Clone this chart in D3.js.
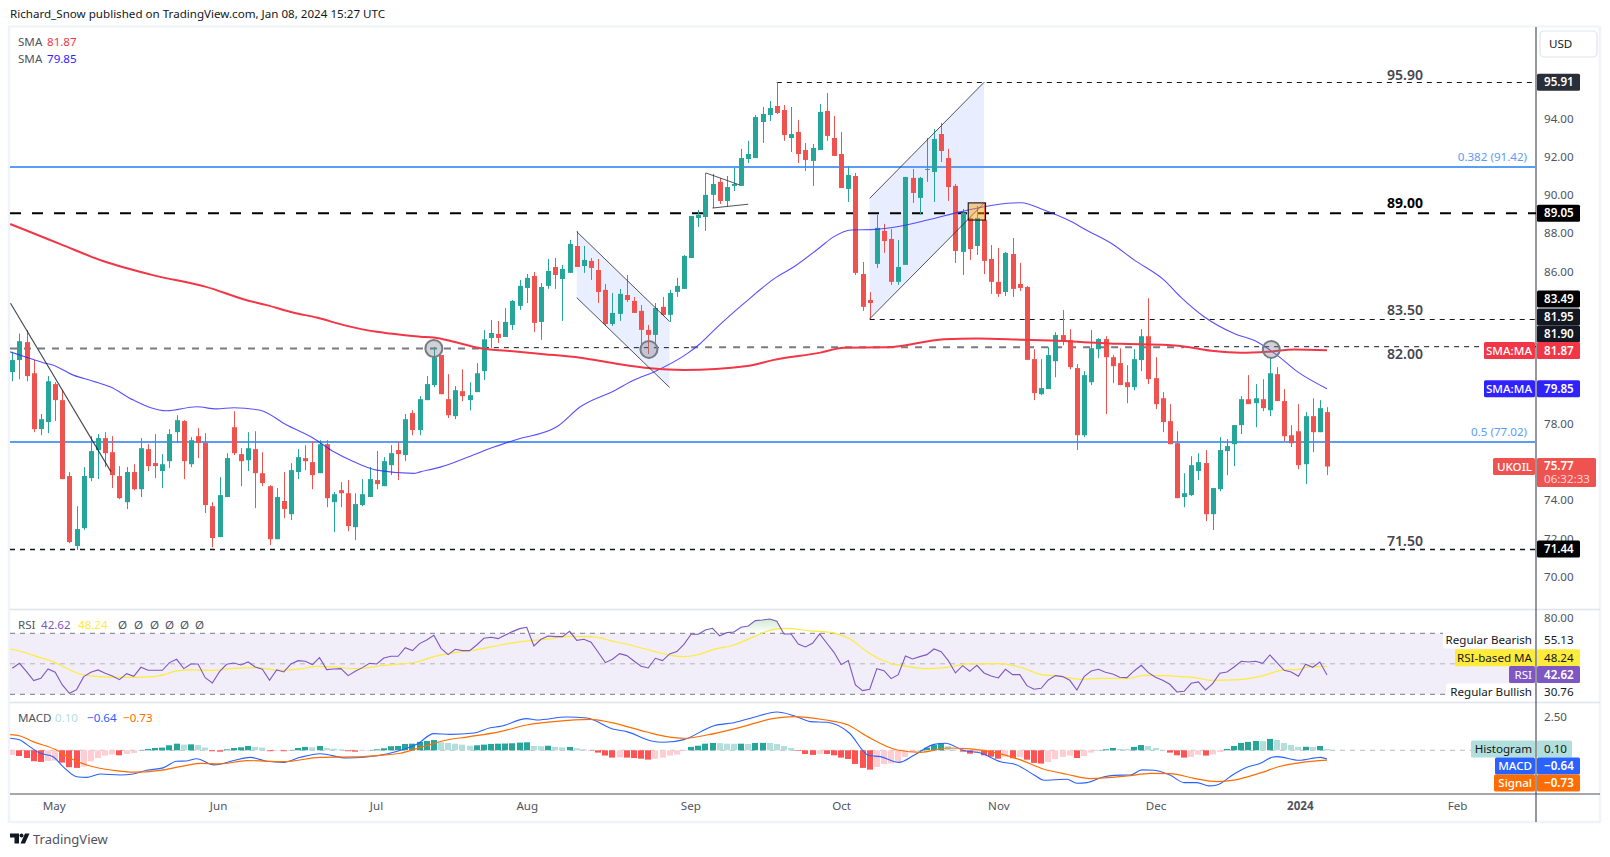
<!DOCTYPE html>
<html><head><meta charset="utf-8">
<style>html,body{margin:0;padding:0;background:#fff;overflow:hidden}svg{display:block}text{font-family:"Noto Sans",sans-serif}</style>
<script src="https://cdn.jsdelivr.net/npm/d3@7/dist/d3.min.js"></script>
</head><body><svg id="c" width="1610" height="857"></svg>
<script>
const opens=[80.72,81.35,82.29,80.66,77.73,78.10,80.09,79.25,75.27,71.60,72.54,75.16,76.63,77.26,76.52,75.27,73.90,75.48,74.58,76.68,75.95,75.53,76.05,77.57,78.15,75.89,77.36,77.00,73.69,72.07,74.17,77.83,76.42,76.10,76.68,75.42,74.74,71.96,73.96,73.27,75.48,76.21,76.00,75.42,76.94,73.90,74.53,74.37,72.59,73.75,74.17,75.06,74.74,75.84,76.63,76.37,78.57,77.68,79.25,80.04,81.61,79.30,78.41,79.72,79.25,79.67,80.77,82.51,82.72,82.56,83.19,84.19,85.13,85.76,83.35,85.24,86.23,85.60,85.92,87.33,86.28,86.55,86.07,85.03,83.24,83.77,84.76,84.45,83.93,82.93,82.67,84.14,83.72,84.92,85.08,86.70,88.80,88.85,90.01,90.69,89.69,90.48,90.48,91.89,91.94,93.83,94.20,94.67,94.46,92.99,93.31,92.36,91.79,92.36,94.41,92.99,92.15,90.32,91.00,85.86,84.50,86.39,88.12,87.70,85.45,86.34,90.90,89.85,91.33,91.21,93.20,91.94,90.48,87.02,88.80,87.33,88.69,86.65,85.45,84.92,86.91,85.34,85.18,81.40,79.56,79.83,81.29,82.66,82.39,80.93,77.41,80.19,81.92,82.45,81.50,81.19,80.19,79.93,81.35,82.60,80.40,79.35,78.15,76.99,74.17,74.27,75.53,75.95,73.27,74.58,76.58,76.94,77.94,79.30,79.09,79.30,78.72,80.61,79.20,77.41,77.62,75.89,78.41,77.57,78.62];
const highs=[81.78,82.74,82.92,81.35,78.52,80.51,80.19,79.77,75.48,73.69,75.74,77.36,77.47,77.57,77.36,75.79,75.74,75.89,77.26,76.94,77.47,76.42,77.73,78.46,78.20,77.31,77.78,77.52,73.90,75.21,76.47,78.67,76.73,77.57,77.62,76.52,74.79,74.64,75.48,75.95,76.68,76.89,77.10,77.15,77.15,74.43,74.95,75.06,74.37,75.11,75.74,76.58,76.26,76.89,77.05,78.52,78.72,79.46,80.51,82.04,81.61,80.61,79.98,80.87,80.19,81.19,82.92,83.45,83.40,84.08,84.50,85.55,85.86,85.97,85.39,86.65,86.70,86.34,87.65,88.12,87.33,86.70,86.65,85.34,84.87,85.08,85.81,84.66,84.24,83.19,84.34,84.66,85.03,85.66,86.86,88.90,89.22,91.16,91.11,90.90,91.00,91.42,92.42,92.84,94.20,94.62,94.93,95.91,94.72,94.62,93.94,92.73,92.68,94.77,95.35,94.15,93.31,91.53,91.16,86.49,84.92,88.96,88.49,88.22,87.65,90.95,91.37,90.95,92.99,93.46,93.78,92.42,90.58,89.27,88.80,89.43,89.59,87.38,87.23,87.02,87.75,86.44,85.24,81.92,81.40,82.03,82.81,83.97,82.97,81.14,80.77,82.92,82.50,82.60,81.61,81.97,81.08,81.92,82.97,84.59,81.50,79.67,79.04,77.62,75.42,76.31,76.47,76.63,74.64,77.31,77.21,77.94,79.46,80.56,80.09,80.35,81.45,80.98,79.83,77.94,79.04,78.62,79.35,79.25,78.88];
const lows=[80.24,80.35,80.24,77.57,77.41,77.52,78.15,75.11,71.75,71.39,72.44,75.00,75.11,75.74,74.64,74.06,73.54,74.53,74.17,75.53,75.16,74.64,75.69,77.00,75.11,75.74,76.21,73.33,71.54,72.07,74.17,76.37,74.74,75.53,73.59,74.74,71.65,71.96,73.06,72.96,75.11,75.58,74.58,75.42,73.64,72.33,73.64,72.38,71.91,73.69,74.17,74.58,74.74,75.32,75.06,76.05,77.41,77.41,79.25,79.93,79.56,78.31,78.25,79.20,78.72,79.67,80.30,81.99,82.25,82.56,82.93,83.98,84.34,82.82,82.41,85.08,85.08,83.40,85.92,86.23,85.92,85.55,84.34,83.14,83.14,83.40,84.40,83.82,81.97,81.67,82.14,83.66,83.35,84.66,85.08,86.70,88.33,88.12,89.32,89.53,89.38,90.21,90.48,91.68,91.94,92.73,93.88,94.25,92.84,92.26,91.68,91.26,90.48,92.36,92.84,92.05,90.37,89.64,85.81,83.93,83.51,86.18,86.97,85.29,85.29,86.34,89.59,88.96,90.69,89.64,91.73,89.69,86.44,85.81,86.60,86.86,85.86,84.82,84.66,84.71,84.66,84.97,81.36,79.25,79.51,79.83,80.45,82.13,80.87,76.63,77.31,80.04,81.45,78.52,80.14,80.04,79.09,79.77,80.77,80.09,78.78,77.57,76.94,74.11,73.64,74.22,75.06,72.91,72.44,74.48,75.32,75.79,77.47,79.04,77.83,78.67,78.41,79.20,77.10,76.79,75.63,74.85,76.52,77.57,75.32];
const closes=[81.35,82.34,80.51,77.73,78.25,80.24,79.25,75.11,71.81,72.49,75.27,76.58,77.26,76.47,75.32,74.11,75.48,74.58,76.73,75.79,75.79,75.89,77.47,78.20,76.05,77.15,77.00,73.75,72.02,74.27,76.21,76.47,76.05,76.73,75.42,74.90,71.96,74.17,73.54,75.58,76.26,76.05,75.32,76.94,74.11,74.32,74.37,72.65,73.80,74.32,75.11,74.85,76.05,76.47,76.42,78.25,77.68,79.30,80.09,81.50,79.56,78.46,79.77,79.46,79.51,80.66,82.44,82.77,82.51,83.35,84.45,85.24,85.66,83.30,85.18,86.02,85.81,86.13,87.44,86.23,86.60,86.18,84.92,83.24,83.82,84.82,84.50,83.82,82.93,82.67,84.08,83.72,84.87,85.24,86.81,88.90,88.96,90.01,90.58,89.69,90.42,90.58,91.94,92.15,94.09,94.25,94.56,94.30,93.15,93.20,92.15,91.84,92.47,94.36,93.10,92.05,90.37,91.05,85.92,84.14,84.34,88.28,87.59,85.45,86.23,90.95,90.11,90.90,91.37,92.94,92.31,90.42,87.07,89.06,87.17,88.80,86.55,85.45,84.82,86.97,85.08,85.13,81.36,79.62,79.88,81.61,82.66,82.34,80.98,77.41,80.56,81.97,82.45,81.50,81.03,80.04,79.93,81.40,82.60,80.35,79.04,78.10,76.94,74.11,74.37,75.84,76.00,73.27,74.64,76.63,76.84,77.94,79.30,79.04,79.35,78.83,80.66,79.20,77.36,76.99,75.84,78.41,77.57,78.83,75.77];
const sma50Idx=[-0.3,2.94,4.34,5.74,8.54,11.34,13.68,16.95,21.6,25.8,28.6,31,34.7,38.4,42.2,45,47.8,51,56.2,57.1,60,64,67.5,70.6,76.2,79.5,84.4,87,89.8,94.5,96.3,98.7,102.4,107,109.4,113.1,115,117.4,120.2,124.4,128.1,132.8,136,139.3,141.2,144.4,148.2,150.1,153.8,157,161.2,163.5,166.8,171,174.2,177,179.9,184];
const sma50Val=[81.78,81.38,81.21,81.08,80.56,80.24,79.95,79.25,78.69,78.90,78.79,78.85,78.72,77.94,77.24,76.54,76.02,75.58,75.41,75.49,75.75,76.30,76.80,77.19,77.85,78.90,79.77,80.30,80.73,81.70,82.22,83.09,84.32,85.71,86.24,87.28,87.82,88.17,88.19,88.38,88.69,89.13,89.39,89.57,89.60,89.22,88.61,88.21,87.47,86.60,85.54,84.66,83.62,82.74,82.31,81.61,80.73,79.85];
const sma200Idx=[-0.3,2.6,6.9,12.7,19.8,27,32.8,35.6,39.4,42.6,46.4,51,52.9,57.1,59,61.8,65,66.9,69.7,74.4,79.5,84.2,89.3,94,102.9,106.6,113.1,116.4,122.4,130.4,135,141.1,145.3,155.1,161.7,164.4,168.2,171.9,175.6,179.4,184];
const sma200Val=[88.48,88.05,87.40,86.54,85.79,85.20,84.49,84.23,83.83,83.58,83.18,82.83,82.74,82.57,82.53,82.31,82.01,81.90,81.82,81.66,81.47,81.18,80.92,80.83,81.04,81.36,81.74,82.00,82.02,82.44,82.48,82.42,82.37,82.20,82.14,82.04,81.82,81.73,81.78,81.90,81.87];
const rsi=[47.05,50.33,44.86,38.96,40.49,46.61,44.43,36.12,30.66,33.06,41.59,44.43,45.96,43.77,42.02,39.62,43.55,41.80,47.71,45.74,45.74,45.74,50.77,52.95,46.83,49.89,49.89,40.93,37.43,44.86,49.67,50.55,49.24,51.20,47.93,46.40,39.18,45.96,44.65,49.89,52.08,51.64,49.46,54.05,46.18,46.61,46.83,42.24,45.08,47.49,50.33,49.89,53.83,54.92,54.92,60.60,58.64,63.23,65.63,68.69,60.17,56.01,59.51,58.64,58.64,62.35,66.72,67.38,66.51,68.91,71.10,73.06,73.94,61.70,66.07,68.26,67.82,67.82,71.32,65.41,66.07,64.10,57.54,50.77,52.95,56.67,55.36,51.86,48.36,47.27,53.61,52.08,56.45,57.98,62.79,69.35,69.35,72.19,73.28,68.26,70.44,70.88,73.94,74.81,78.31,78.75,79.40,77.87,69.57,69.57,63.01,61.04,63.45,69.57,63.45,57.54,49.46,52.08,36.12,32.40,33.28,46.83,45.52,40.27,42.90,55.14,53.17,54.70,56.01,59.73,57.98,52.08,43.99,48.80,45.08,49.02,43.99,42.02,40.71,46.40,42.90,42.90,35.68,33.28,33.93,39.40,42.24,41.59,39.18,32.84,41.59,45.30,46.40,44.43,43.33,41.15,40.93,45.30,49.02,44.21,41.15,39.18,36.56,31.53,31.97,37.21,38.09,32.84,37.00,43.77,44.65,47.93,51.64,51.20,51.64,50.33,55.79,50.77,45.74,44.65,41.80,49.67,47.71,51.20,42.62];
const rsiMaIdx=[-0.3,1,3.9,5.7,7.6,10,11.8,14.6,17,19.8,21.6,23,25.3,28.2,31,33.8,37.5,40.3,42.6,45,48.2,51,54.3,56.6,59,61,64.1,66,68.3,71.6,75.3,78.1,81.4,83.7,87,89.8,92.1,94,95.8,98.2,101,103.8,106.6,108.4,111.7,114.5,117.3,119.6,122.9,124.8,127.6,130.9,133.7,138.3,141.1,143.9,146.7,149.5,152.3,156,158.4,162.1,165.8,167.7,171,174.7,178,180.1,181.7,184];
const rsiMaVal=[59.73,58.42,54.05,51.42,47.05,42.68,41.80,41.15,41.15,41.59,43.33,45.30,45.96,45.74,47.05,47.49,45.74,46.61,48.36,47.93,46.83,48.36,49.89,51.20,54.70,56.67,58.64,60.17,62.35,64.76,66.29,68.04,67.60,65.19,61.70,58.20,55.58,54.70,55.79,59.51,62.35,67.82,72.63,73.28,71.53,70.66,66.07,57.98,50.33,48.58,46.83,47.71,49.89,50.11,47.71,43.12,41.80,39.84,40.49,40.27,42.46,42.02,40.71,39.18,39.40,41.80,45.96,46.40,48.14,48.24];
const hist=[-.34,-.42,-.57,-.81,-.86,-.79,-.76,-.91,-1.25,-1.30,-1.21,-.81,-.57,-.39,-.32,-.37,-.27,-.20,.02,.10,.17,.20,.37,.49,.42,.44,.39,.20,-.07,-.10,.07,.17,.22,.32,.25,.20,-.07,-.05,-.07,.02,.17,.25,.22,.32,.17,.12,.07,-.07,-.10,-.05,.02,.07,.15,.30,.32,.47,.49,.62,.69,.76,.59,.54,.49,.42,.34,.37,.42,.47,.49,.50,.52,.57,.59,.32,.30,.34,.25,.22,.25,.15,.07,-.02,-.17,-.39,-.54,-.52,-.54,-.57,-.62,-.69,-.62,-.54,-.39,-.32,-.05,.25,.34,.49,.54,.53,.49,.48,.49,.47,.54,.55,.54,.47,.32,.17,-.05,-.27,-.34,-.25,-.27,-.37,-.54,-.64,-1.01,-1.30,-1.43,-1.23,-1.01,-.98,-.86,-.49,-.12,.02,.20,.39,.52,.30,.05,-.10,-.25,-.20,-.37,-.47,-.62,-.47,-.59,-.49,-.69,-.93,-.98,-.86,-.64,-.49,-.39,-.57,-.42,-.17,.02,.07,.17,.10,.09,.25,.39,.32,.17,.02,-.17,-.37,-.54,-.49,-.32,-.39,-.30,-.12,.10,.32,.54,.62,.69,.68,.84,.76,.54,.39,.25,.26,.25,.32,.10];
const macdIdx=[-0.3,1.1,2,3.9,5.7,7.1,9,10.4,12.3,15.1,16.9,18.8,21.1,23,24.4,25.8,28.2,31,33.3,35.6,38,40.3,43.1,46.8,49.6,52.4,55.2,56.6,59,61.3,64.6,66.9,68.3,72,73.4,77.6,80.4,84.2,86,89.3,91.2,94,98.2,101,103.8,107,109.4,111.7,114,117.1,119.9,121.5,124.1,126.2,129,130.6,133.2,135.5,138.3,140.6,143,144.4,147.6,149,150.4,152.8,154.2,156.5,158.1,159.8,162.1,164,165.8,167.5,168.6,171,172.8,174.7,176.3,177,180.1,183.1,184];
const macdVal=[.89,.76,.44,-.22,-.47,-1.21,-1.95,-2.0,-1.75,-1.82,-1.75,-1.48,-1.30,-.81,-.79,-.62,-1.08,-.76,-.52,-.81,-.89,-.52,-.25,-.57,-.49,-.27,.15,.44,1.23,1.18,1.28,1.67,1.77,2.34,2.24,2.46,2.39,1.55,1.38,.71,.59,.79,1.82,2.04,2.44,2.83,2.56,2.12,2.07,1.30,-.39,-.47,-.89,-.37,.44,.52,-.02,-.20,-.84,-1.08,-1.82,-2.21,-2.14,-2.44,-2.39,-1.95,-1.85,-1.82,-1.45,-1.48,-1.85,-2.39,-2.39,-2.63,-2.56,-1.75,-1.25,-.96,-.52,-.47,-.74,-.52,-.64];
const signalIdx=[-0.3,1.1,2.9,6.2,8.1,10.9,14.1,16.9,20.7,23.5,26.3,29.1,32.8,38,43.1,47.8,51,54.3,57.1,60.8,63.6,68.3,72,75.8,80.9,83.7,88.8,91.6,94,97.2,101.9,106.6,109.4,113.6,116.9,119.7,123.9,127.1,130.9,134.1,138.3,141.1,144.4,147.6,150.9,156,159.3,162.1,165.4,168.6,171,174.7,177.5,180.3,184];
const signalVal=[1.16,1.06,.64,.02,-.59,-1.16,-1.48,-1.62,-1.48,-1.21,-.96,-1.01,-.76,-.84,-.52,-.49,-.39,-.22,.20,.76,.98,1.38,1.87,2.12,2.29,2.07,1.35,1.01,.89,1.13,1.70,2.36,2.49,2.26,1.89,1.01,.02,-.15,.17,.10,-.27,-.71,-1.40,-1.77,-2.09,-1.90,-1.70,-1.72,-2.07,-2.31,-2.21,-1.67,-1.18,-.91,-.73];
const priceTicks=[70,72,74,76,78,86,88,90,92,94];
const rsiTicks=[80];
const macdTicks=[2.5];
const monthIdx=[5.8,28.8,50.9,72,94.9,116,138,160,180.2,202.2];
const monthLabels=['May','Jun','Jul','Aug','Sep','Oct','Nov','Dec','2024','Feb'];
const levelLabels=['95.90','89.00','83.50','82.00','71.50'];

const FS=11.6;
const FRAME='#f0f3fa',AX='#50535e',TXT='#131722',UP='#26a69a',DN='#ef5350',BL='#5b9cf6';
const L=10,R=1536,svg=d3.select('#c');
const xs=d3.scaleLinear().domain([0,184]).range([12.3,1327]);
const y=d3.scaleLinear().domain([68.3,98.81]).range([609,27]);
const yR=d3.scaleLinear().domain([30,70]).range([694.3,633.3]);
const yM=d3.scaleLinear().domain([0,1]).range([750.3,736.77]);
const defs=svg.append('defs');
const clipP=(id,t,b)=>defs.append('clipPath').attr('id',id).append('rect').attr('x',L).attr('y',t).attr('width',R-L).attr('height',b-t);
clipP('cp',27,609);clipP('cr',610,702);clipP('cm',703,794);
const grad=defs.append('linearGradient').attr('id','ob').attr('gradientUnits','userSpaceOnUse').attr('x1',0).attr('x2',0).attr('y1',yR(80)).attr('y2',yR(70));
grad.append('stop').attr('offset',0).attr('stop-color','#4caf50').attr('stop-opacity',.28);
grad.append('stop').attr('offset',1).attr('stop-color','#4caf50').attr('stop-opacity',0);
defs.append('clipPath').attr('id','above').append('rect').attr('x',L).attr('y',610).attr('width',R-L).attr('height',yR(70)-610);

const rect=(g,a,b,c,d,f)=>g.append('rect').attr('x',a).attr('y',b).attr('width',c).attr('height',d).attr('fill',f);
const hl=(g,x1,x2,yy,col,w,dash)=>g.append('line').attr('x1',x1).attr('x2',x2).attr('y1',yy).attr('y2',yy).attr('stroke',col).attr('stroke-width',w).attr('stroke-dasharray',dash||null);
const zipL=(a,b)=>a.map((v,i)=>[v,b[i]]);

// frame
const fr=svg.append('g');
hl(fr,8,1600,26.5,FRAME,2);
hl(fr,8,1600,822,FRAME,2.5);
fr.append('line').attr('x1',9).attr('x2',9).attr('y1',26).attr('y2',823).attr('stroke',FRAME).attr('stroke-width',2.5);
fr.append('line').attr('x1',1600).attr('x2',1600).attr('y1',26).attr('y2',823).attr('stroke',FRAME).attr('stroke-width',2.5);
hl(fr,L,1600,609.5,'#e0e3eb',1.3);
hl(fr,L,1600,702.5,'#e0e3eb',1.3);
hl(fr,L,1600,794,AX,1.2);
fr.append('line').attr('x1',1536).attr('x2',1536).attr('y1',27).attr('y2',822).attr('stroke',AX).attr('stroke-width',1.2);

// price pane
const pg=svg.append('g').attr('clip-path','url(#cp)');
const poly=(pts,fill)=>pg.append('polygon').attr('points',pts.map(d=>xs(d[0])+','+y(d[1])).join(' ')).attr('fill',fill);
const seg=(a,b,col,w)=>pg.append('line').attr('x1',xs(a[0])).attr('y1',y(a[1])).attr('x2',xs(b[0])).attr('y2',y(b[1])).attr('stroke',col||'#2a2a35').attr('stroke-width',w||1).attr('opacity',.8);
poly([[79,88.08],[92,83.37],[92,79.91],[79,84.62]],'rgba(41,98,255,.1)');
poly([[120,89.83],[136,95.91],[136,89.57],[120,83.51]],'rgba(41,98,255,.11)');
const hy=p=>Math.round(y(p))+.5;
hl(pg,L,R,Math.floor(y(91.42)),BL,2);
hl(pg,L,R,Math.floor(y(77.02)),BL,2);
hl(pg,xs(107),R,hy(95.91),'#131722',1,'5 5');
hl(pg,xs(120),R,hy(83.49),'#131722',1,'5 5');
hl(pg,L,R,549.5,'#131722',1.3,'5 5');
hl(pg,L,xs(66),y(81.95),'#787b86',2,'7 7');
hl(pg,xs(66),xs(95),y(82),'#131722',1,'5 5');
hl(pg,xs(95),xs(164),y(82.02),'#787b86',2,'7 7');
hl(pg,xs(164),R,y(82.05),'#131722',1,'5 5');
hl(pg,L,R,y(89.05),'#000',2,'11 11');
// candles
const idx=d3.range(closes.length);
const cg=pg.append('g');
const col=i=>closes[i]>=opens[i]?UP:DN;
cg.selectAll('.w').data(idx).join('rect').attr('x',i=>Math.round(xs(i))).attr('width',1).attr('y',i=>y(highs[i])).attr('height',i=>y(lows[i])-y(highs[i])).attr('fill',col);
cg.selectAll('.b').data(idx).join('rect').attr('x',i=>Math.round(xs(i))-2).attr('width',5)
 .attr('y',i=>y(Math.max(opens[i],closes[i]))).attr('height',i=>Math.max(1,Math.abs(y(opens[i])-y(closes[i])))).attr('fill',col);
// SMAs
const ln=(sc)=>d3.line().x(d=>xs(d[0])).y(d=>sc(d[1])).curve(d3.curveMonotoneX);
pg.append('path').attr('d',ln(y)(zipL(sma50Idx,sma50Val))).attr('fill','none').attr('stroke','#2f22ff').attr('stroke-opacity',.8).attr('stroke-width',1.1);
pg.append('path').attr('d',ln(y)(zipL(sma200Idx,sma200Val))).attr('fill','none').attr('stroke','#f23645').attr('stroke-width',2);
// drawings over candles
seg([-0.25,84.33],[13.8,75.5],'#131722',1.1);
seg([79,88.08],[92,83.37]);seg([79,84.62],[92,79.91]);
seg([120,89.83],[136,95.91]);seg([120,83.51],[136,89.57]);
seg([97.06,91.16],[101.8,90.53]);seg([98,89.32],[103,89.52]);
pg.append('rect').attr('x',xs(134)-1.5).attr('y',y(89.59)).attr('width',xs(136)-xs(134)+3).attr('height',y(88.69)-y(89.59)).attr('fill','rgba(255,152,0,.45)').attr('stroke','#131722').attr('stroke-width',1.1);
const circles=[[59,81.96],[89.1,81.91],[176.2,81.91]];
pg.selectAll('circle').data(circles).join('circle').attr('cx',d=>xs(d[0])).attr('cy',d=>y(d[1])).attr('r',8.5).attr('fill','rgba(120,123,134,.35)').attr('stroke','#787b86').attr('stroke-width',2);

// level labels
const lvl=svg.append('g').attr('font-size',14).attr('text-anchor','middle');
const lvlY=[75,203,310,354,541];
lvl.selectAll('text').data(levelLabels).join('text').attr('x',1405).attr('y',(d,i)=>lvlY[i]).attr('dy','.35em').text(d=>d)
 .attr('fill',d=>d==='89.00'?'#000':'#434651').attr('font-weight',d=>d==='89.00'?700:600);
const t=(x,yy,s,c,o)=>{o=o||{};return svg.append('text').attr('x',x).attr('y',yy).attr('dy','.35em').attr('font-size',o.s||FS).attr('fill',c).attr('text-anchor',o.a||'start').attr('font-weight',o.w||400).attr('opacity',o.o||1).text(s)};
t(1527,157,'0.382 (91.42)',BL,{a:'end'});
t(1527,432,'0.5 (77.02)',BL,{a:'end'});

// RSI pane
const rg=svg.append('g').attr('clip-path','url(#cr)');
rect(rg,L,yR(70),R-L,yR(30)-yR(70),'rgba(126,87,194,.1)');
hl(rg,L,R,yR(70),'#787b86',1,'5 5');hl(rg,L,R,yR(30),'#787b86',1,'5 5');hl(rg,L,R,yR(50),'#787b86',1,'5 5').attr('opacity',.5);
const rsiPts=rsi.map((v,i)=>[i,v]);
rg.append('path').attr('clip-path','url(#above)').attr('d',d3.area().x(d=>xs(d[0])).y0(yR(70)).y1(d=>yR(d[1]))(rsiPts)).attr('fill','url(#ob)');
rg.append('path').attr('d',ln(yR)(zipL(rsiMaIdx,rsiMaVal))).attr('fill','none').attr('stroke','#ffeb3b').attr('stroke-width',1.2);
rg.append('path').attr('d',d3.line().x(d=>xs(d[0])).y(d=>yR(d[1]))(rsiPts)).attr('fill','none').attr('stroke','#7e57c2').attr('stroke-width',1.1);

// MACD pane
const mg=svg.append('g').attr('clip-path','url(#cm)');
hl(mg,L,R,yM(0),'#787b86',1,'5 5').attr('opacity',.5);
const hcol=i=>{const v=hist[i],p=i?hist[i-1]:v;return v>=0?(v>=p?UP:'#b2dfdb'):(v<p?'#ff5252':'#ffcdd2')};
mg.selectAll('.h').data(idx).join('rect').attr('x',i=>Math.round(xs(i))-3).attr('width',6).attr('y',i=>Math.min(yM(0),yM(hist[i]))).attr('height',i=>Math.abs(yM(hist[i])-yM(0))).attr('fill',hcol);
mg.append('path').attr('d',ln(yM)(zipL(macdIdx,macdVal))).attr('fill','none').attr('stroke','#2962ff').attr('stroke-width',1.1);
mg.append('path').attr('d',ln(yM)(zipL(signalIdx,signalVal))).attr('fill','none').attr('stroke','#ff6d00').attr('stroke-width',1.2);

// right axes
const axf=d3.format('.2f');
const axR=(sc,vals)=>{const g=svg.append('g').attr('transform','translate(1536,0)').call(d3.axisRight(sc).tickValues(vals).tickFormat(axf).tickSize(0).tickPadding(8));
 g.select('.domain').remove();g.selectAll('text').attr('font-size',FS).attr('fill',AX).style('font-family','"Noto Sans",sans-serif');};
axR(y,priceTicks);axR(yR,rsiTicks);axR(yM,macdTicks);
// bottom axis
const bx=svg.append('g').attr('transform','translate(0,794)').call(d3.axisBottom(xs).tickValues(monthIdx).tickFormat((d,i)=>monthLabels[i]).tickSize(0).tickPadding(8));
bx.select('.domain').remove();
bx.selectAll('text').attr('font-size',FS).attr('fill',AX).attr('font-weight',(d,i)=>monthLabels[i]==='2024'?700:400).style('font-family','"Noto Sans",sans-serif');

// value tags
const tag=(cy,val,bg,fg,o)=>{o=o||{};const w=o.w||43;
 svg.append('rect').attr('x',1537).attr('y',cy-8.5).attr('width',w).attr('height',17).attr('rx',1.5).attr('fill',bg);
 t(1544,cy,val,fg,{w:o.b===0?400:600});
 if(o.left){const lw=1535-o.lx;svg.append('rect').attr('x',o.lx).attr('y',cy-8.5).attr('width',lw).attr('height',17).attr('rx',1.5).attr('fill',o.lbg||bg);
  t(1532,cy,o.left,o.lfg||fg,{a:'end',w:o.lw||400});}};
tag(y(95.91),'95.91','#2a2e39','#fff');
tag(y(89.05),'89.05','#000','#fff');
tag(299,'83.49','#000','#fff');
tag(317,'81.95','#131722','#fff');
tag(334,'81.90','#131722','#fff');
tag(350.5,'81.87','#f23645','#fff',{left:'SMA:MA',lx:1484,lw:500});
tag(y(79.85),'79.85','#2f22ff','#fff',{left:'SMA:MA',lx:1484,lw:500});
svg.append('rect').attr('x',1537).attr('y',458).attr('width',59).attr('height',29).attr('rx',1.5).attr('fill',DN);
t(1544,466,'75.77','#fff',{w:600});
t(1544,479,'06:32:33','#fff',{o:.75});
svg.append('rect').attr('x',1493).attr('y',458).attr('width',42).attr('height',17).attr('rx',1.5).attr('fill',DN);
t(1532,466.5,'UKOIL','#fff',{a:'end',w:500});
tag(y(71.44),'71.44','#000','#fff');
tag(640,'55.13','#fff',TXT,{left:'Regular Bearish',lx:1443,b:0});
tag(657.7,'48.24','#ffeb3b',TXT,{left:'RSI-based MA',lx:1455,b:0});
tag(674.5,'42.62','#7e57c2','#fff',{left:'RSI',lx:1509});
tag(692,'30.76','#fff',TXT,{left:'Regular Bullish',lx:1446,b:0});
tag(749,'0.10','#b2dfdb',TXT,{left:'Histogram',lx:1471,b:0,w:35});
tag(766,'−0.64','#2962ff','#fff',{left:'MACD',lx:1495,lw:500});
tag(783,'−0.73','#ff6d00','#fff',{left:'Signal',lx:1494,lw:500});

// USD button
svg.append('rect').attr('x',1540).attr('y',31).attr('width',57).attr('height',26).attr('rx',4).attr('fill','#fff').attr('stroke','#e0e3eb').attr('stroke-width',1.2);
t(1549,44,'USD',TXT);

// legends & captions
t(10,14,'Richard_Snow published on TradingView.com, Jan 08, 2024 15:27 UTC','#131722');
t(18,41.5,'SMA',AX);t(47,41.5,'81.87','#f23645');
t(18,59,'SMA',AX);t(47,59,'79.85','#2f22ff');
t(18,625,'RSI',AX);t(41,625,'42.62','#7e57c2');t(78,625,'48.24','#ffeb3b');
[118,134,150,165,180,195].forEach(x=>t(x,625,'Ø',AX));
t(18,718,'MACD',AX);t(55,718,'0.10','#b2dfdb');t(87,718,'−0.64','#2962ff');t(123,718,'−0.73','#ff6d00');
// logo
const lg=svg.append('g').attr('transform','translate(10,833.5)').attr('fill','#131722');
lg.append('path').attr('d','M0 0H9V10H4.5V4H0Z');
lg.append('circle').attr('cx',11.5).attr('cy',2).attr('r',2);
lg.append('path').attr('d','M15 0H19.5L15 10H10.5Z');
t(33,839.5,'TradingView','#50535e',{s:13});
</script></body></html>
